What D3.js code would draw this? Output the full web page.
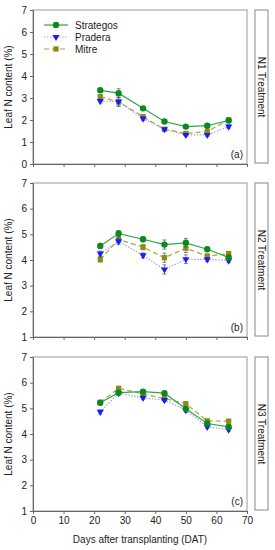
<!DOCTYPE html>
<html>
<head>
<meta charset="utf-8">
<script src="https://cdn.jsdelivr.net/npm/d3@7"></script>
<style>
  body { margin: 0; background: #fff; }
  svg { display: block; font-family: "Liberation Sans", Arial, sans-serif; }
</style>
</head>
<body>
<svg id="chart" width="275" height="550"></svg>
<script>
// Days after transplanting
const days = [22, 28, 36, 43, 50, 57, 64];
const xTicks = [0, 10, 20, 30, 40, 50, 60, 70];

// Leaf N content (%) per treatment
const n1Strategos = [3.35, 3.22, 2.53, 1.93, 1.70, 1.74, 1.98];
const n1Pradera   = [2.86, 2.84, 2.06, 1.58, 1.32, 1.32, 1.70];
const n1Mitre     = [3.06, 2.82, 2.15, 1.58, 1.39, 1.48, 2.00];

const n2Strategos = [4.55, 5.03, 4.81, 4.60, 4.67, 4.42, 4.10];
const n2Pradera   = [4.25, 4.73, 4.18, 3.63, 4.03, 4.02, 3.98];
const n2Mitre     = [4.02, 4.80, 4.50, 4.09, 4.46, 4.15, 4.25];

const n3Strategos = [5.22, 5.61, 5.65, 5.59, 4.98, 4.41, 4.28];
const n3Pradera   = [4.86, 5.59, 5.41, 5.32, 4.93, 4.28, 4.17];
const n3Mitre     = [5.23, 5.78, 5.56, 5.38, 5.18, 4.51, 4.50];

// standard errors (rough)
const n1Err = [0.08, 0.2, 0.08, 0.06, 0.06, 0.06, 0.08];
const n2Err = [0.1, 0.12, 0.1, 0.18, 0.17, 0.08, 0.08];
const n3Err = [0.08, 0.06, 0.06, 0.06, 0.08, 0.06, 0.06];

const panels = [
  { top: 10, yMin: 0, yTicks: [0, 1, 2, 3, 4, 5, 6, 7], label: "N1 Treatment", tag: "(a)",
    series: [n1Strategos, n1Pradera, n1Mitre], err: n1Err },
  { top: 183, yMin: 1, yTicks: [1, 2, 3, 4, 5, 6, 7], label: "N2 Treatment", tag: "(b)",
    series: [n2Strategos, n2Pradera, n2Mitre], err: n2Err },
  { top: 357, yMin: 1, yTicks: [1, 2, 3, 4, 5, 6, 7], label: "N3 Treatment", tag: "(c)",
    series: [n3Strategos, n3Pradera, n3Mitre], err: n3Err }
];

const cultivars = [
  { name: "Strategos", line: "#2ea84a", fill: "#0a8a1e", dash: null, symbol: d3.symbolCircle, size: 32 },
  { name: "Pradera", line: "#a0a0e8", fill: "#1a1aff", dash: "1.5,1.5", symbol: d3.symbolTriangle, size: 22, rotate: 180 },
  { name: "Mitre", line: "#a8a830", fill: "#8c8c14", dash: "5,3", symbol: d3.symbolSquare, size: 28 }
];

const svg = d3.select("#chart");
const left = 33, right = 247, ph = 154;

const x = d3.scaleLinear().domain([0, 70]).range([left, right]);

panels.forEach((p, pi) => {
  const y = d3.scaleLinear().domain([p.yMin, 7]).range([p.top + ph, p.top]);
  const g = svg.append("g");

  // frame
  g.append("rect")
    .attr("x", left).attr("y", p.top)
    .attr("width", right - left).attr("height", ph)
    .attr("fill", "none").attr("stroke", "#999").attr("stroke-width", 1);

  // axes
  const xAxis = g.append("g")
    .attr("transform", `translate(0,${p.top + ph})`)
    .call(d3.axisBottom(x).tickValues(xTicks).tickSize(3)
      .tickFormat(pi === 2 ? d3.format("d") : ""));
  const yAxis = g.append("g")
    .attr("transform", `translate(${left},0)`)
    .call(d3.axisLeft(y).tickValues(p.yTicks).tickSize(3).tickFormat(d3.format("d")));

  [xAxis, yAxis].forEach(a => {
    a.select(".domain").attr("stroke", "#666");
    a.selectAll(".tick line").attr("stroke", "#666");
    a.selectAll(".tick text").attr("fill", "#222").attr("font-size", 10)
      .attr("font-family", "Liberation Sans, Arial, sans-serif");
  });
  yAxis.selectAll(".tick text").attr("x", -6);
  xAxis.selectAll(".tick text").attr("y", 6);

  // y title
  g.append("text")
    .attr("transform", `translate(12,${p.top + ph / 2}) rotate(-90)`)
    .attr("text-anchor", "middle")
    .attr("font-size", 10).attr("fill", "#222")
    .text("Leaf N content (%)");

  // panel tag
  g.append("text")
    .attr("x", right - 4).attr("y", p.top + ph - 6)
    .attr("text-anchor", "end")
    .attr("font-size", 10).attr("fill", "#222")
    .text(p.tag);

  // strip
  g.append("rect")
    .attr("x", 255).attr("y", p.top)
    .attr("width", 13).attr("height", ph - 1)
    .attr("fill", "#fff").attr("stroke", "#888").attr("stroke-width", 1);
  g.append("text")
    .attr("transform", `translate(258,${p.top + ph / 2}) rotate(90)`)
    .attr("text-anchor", "middle")
    .attr("font-size", 10).attr("fill", "#222")
    .text(p.label);

  // series, drawn back to front
  [2, 1, 0].forEach(si => {
    const c = cultivars[si];
    const vals = p.series[si];
    const pts = days.map((d, i) => ({ d, v: vals[i] }));

    g.append("g").selectAll("g")
      .data(pts).enter().append("g")
      .each(function (pt, i) {
        const e = p.err[i];
        const s = d3.select(this);
        s.append("line")
          .attr("x1", x(pt.d)).attr("x2", x(pt.d))
          .attr("y1", y(pt.v - e)).attr("y2", y(pt.v + e))
          .attr("stroke", "#555").attr("stroke-width", 0.7);
        [pt.v - e, pt.v + e].forEach(v => {
          s.append("line")
            .attr("x1", x(pt.d) - 2).attr("x2", x(pt.d) + 2)
            .attr("y1", y(v)).attr("y2", y(v))
            .attr("stroke", "#555").attr("stroke-width", 0.7);
        });
      });

    g.append("path")
      .datum(pts)
      .attr("fill", "none")
      .attr("stroke", c.line)
      .attr("stroke-width", 1.2)
      .attr("stroke-dasharray", c.dash)
      .attr("d", d3.line().x(d => x(d.d)).y(d => y(d.v)));

    g.append("g").selectAll("path")
      .data(pts).enter().append("path")
      .attr("d", d3.symbol().type(c.symbol).size(c.size))
      .attr("transform", d => `translate(${x(d.d)},${y(d.v)})${c.rotate ? " rotate(" + c.rotate + ")" : ""}`)
      .attr("fill", c.fill);
  });

  // legend in first panel
  if (pi === 0) {
    const lg = g.append("g");
    cultivars.forEach((c, i) => {
      const ly = 25 + i * 12;
      lg.append("line")
        .attr("x1", 44).attr("x2", 68).attr("y1", ly).attr("y2", ly)
        .attr("stroke", c.line).attr("stroke-width", 1.2)
        .attr("stroke-dasharray", c.dash);
      lg.append("path")
        .attr("d", d3.symbol().type(c.symbol).size(c.size))
        .attr("transform", `translate(56,${ly})${c.rotate ? " rotate(" + c.rotate + ")" : ""}`)
        .attr("fill", c.fill);
      lg.append("text")
        .attr("x", 75).attr("y", ly + 3.5)
        .attr("font-size", 10).attr("fill", "#222")
        .text(c.name);
    });
  }
});

// x title
svg.append("text")
  .attr("x", x(35)).attr("y", 543)
  .attr("text-anchor", "middle")
  .attr("font-size", 10).attr("fill", "#222")
  .text("Days after transplanting (DAT)");
</script>
</body>
</html>
